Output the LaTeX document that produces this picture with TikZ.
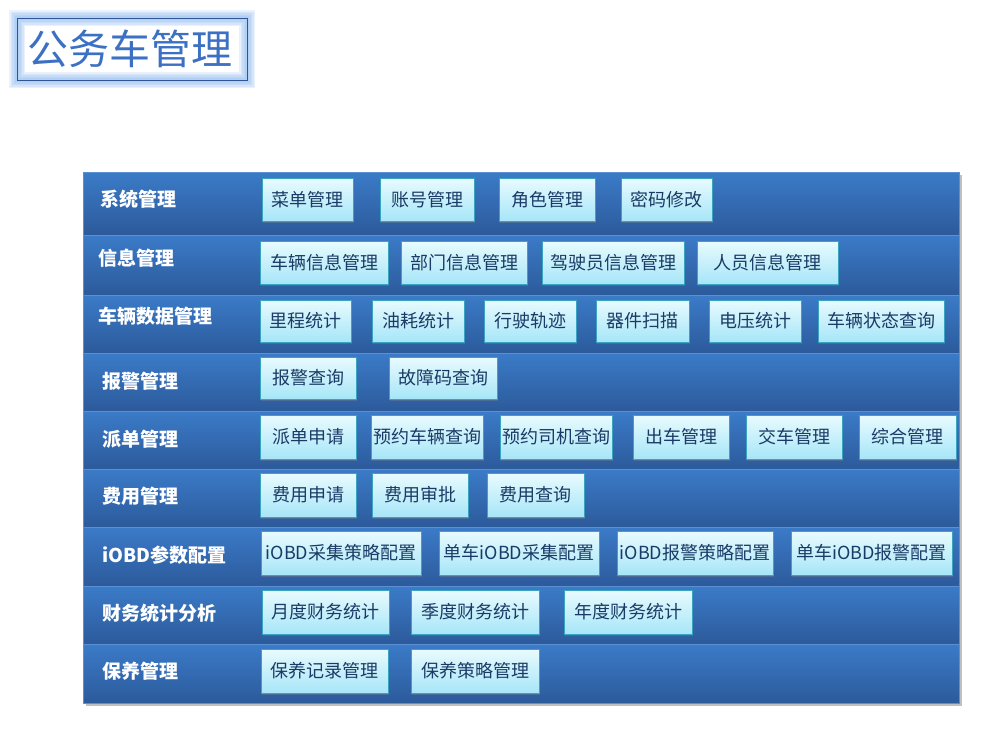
\documentclass[tikz,border=0pt]{standalone}
\usepackage{fontspec}
\setmainfont{Noto Sans CJK SC}
\newfontfamily\cjk{Noto Sans CJK SC}
\usetikzlibrary{shadows}
\definecolor{bandtop}{HTML}{3B7BC8}
\definecolor{bandbot}{HTML}{2C5A9B}
\definecolor{bandline}{HTML}{5B91D2}
\definecolor{boxtop}{HTML}{E8FBFE}
\definecolor{boxbot}{HTML}{A6E6F8}
\definecolor{boxline}{HTML}{3AA3BF}
\definecolor{boxtext}{HTML}{1B3A66}
\definecolor{titleblue}{HTML}{3C70C2}
\definecolor{titleline}{HTML}{2F5597}
\definecolor{glow}{HTML}{8DB8EE}
\tikzstyle{band}=[top color=bandtop,bottom color=bandbot,draw=bandline,line width=0.8pt]
\tikzstyle{rowlabel}=[anchor=west,text=white,font=\cjk\bfseries\fontsize{19}{19}\selectfont,inner sep=0pt]
\tikzstyle{item}=[rectangle,top color=boxtop,bottom color=boxbot,draw=boxline,line width=0.8pt,
  text=boxtext,font=\cjk\fontsize{18}{18}\selectfont,inner sep=0pt,
  drop shadow={shadow xshift=1pt,shadow yshift=-1.5pt,opacity=0.35}]

\begin{document}
\begin{tikzpicture}[x=1pt,y=-1pt]
\path[use as bounding box] (0,0) rectangle (1006,744);
% title (soft glow round the frame)
\foreach \w in {16,13,10,7,4}
  \draw[glow,line width=\w pt,opacity=0.2] (17,18) rectangle (247,80);
\draw[titleline,line width=0.8pt] (17,18) rectangle (247,80);
\node[text=titleblue,font=\cjk\fontsize{41}{41}\selectfont,inner sep=0pt] (title) at (130,49) {公务车管理};
% panel
\fill[black,opacity=0.25] (86,175) rectangle (962,706);
\foreach \t/\b in {172/235,235/295,295/353,353/411,411/469,469/527,527/586,586/644,644/703}
  \draw[band] (83,\t) rectangle (959,\b);
% row labels
\node[rowlabel] (r_sys)  at (100,199) {系统管理};
\node[rowlabel] (r_info) at (98,258) {信息管理};
\node[rowlabel] (r_data) at (98,316) {车辆数据管理};
\node[rowlabel] (r_warn) at (102,381) {报警管理};
\node[rowlabel] (r_disp) at (102,439) {派单管理};
\node[rowlabel] (r_cost) at (102,496) {费用管理};
\node[rowlabel] (r_obd)  at (102,555) {iOBD参数配置};
\node[rowlabel] (r_fin)  at (102,613) {财务统计分析};
\node[rowlabel] (r_care) at (102,671) {保养管理};
% row 1
\node[item,minimum width=91pt,minimum height=43pt] (b_menu)    at (307.5,199.5) {菜单管理};
\node[item,minimum width=94pt,minimum height=43pt] (b_account) at (427,199.5)   {账号管理};
\node[item,minimum width=96pt,minimum height=43pt] (b_role)    at (547,199.5)   {角色管理};
\node[item,minimum width=91pt,minimum height=43pt] (b_pwd)     at (666.5,199.5) {密码修改};
% row 2
\node[item,minimum width=128pt,minimum height=43pt] (b_car)    at (324,262.5)   {车辆信息管理};
\node[item,minimum width=126pt,minimum height=43pt] (b_dept)   at (464,262.5)   {部门信息管理};
\node[item,minimum width=142pt,minimum height=43pt] (b_driver) at (613,262.5)   {驾驶员信息管理};
\node[item,minimum width=141pt,minimum height=43pt] (b_staff)  at (767.5,262.5) {人员信息管理};
% row 3
\node[item,minimum width=91pt,minimum height=42pt]  (b_mile)   at (305.5,321) {里程统计};
\node[item,minimum width=92pt,minimum height=42pt]  (b_fuel)   at (418,321)   {油耗统计};
\node[item,minimum width=92pt,minimum height=42pt]  (b_track)  at (530,321)   {行驶轨迹};
\node[item,minimum width=93pt,minimum height=42pt]  (b_scan)   at (642.5,321) {器件扫描};
\node[item,minimum width=92pt,minimum height=42pt]  (b_volt)   at (755,321)   {电压统计};
\node[item,minimum width=126pt,minimum height=42pt] (b_state)  at (881,321)   {车辆状态查询};
% row 4
\node[item,minimum width=96pt,minimum height=42pt]  (b_alarm)  at (308,378) {报警查询};
\node[item,minimum width=108pt,minimum height=42pt] (b_fault)  at (443,378) {故障码查询};
% row 5
\node[item,minimum width=96pt,minimum height=44pt]  (b_apply)  at (308,437)   {派单申请};
\node[item,minimum width=112pt,minimum height=44pt] (b_bookcar) at (427,437)  {预约车辆查询};
\node[item,minimum width=112pt,minimum height=44pt] (b_bookdrv) at (556,437)  {预约司机查询};
\node[item,minimum width=96pt,minimum height=44pt]  (b_out)    at (681,437)   {出车管理};
\node[item,minimum width=96pt,minimum height=44pt]  (b_return) at (794,437)   {交车管理};
\node[item,minimum width=97pt,minimum height=44pt]  (b_all)    at (907.5,437) {综合管理};
% row 6
\node[item,minimum width=96pt,minimum height=44pt] (b_feeapp)  at (308,495)   {费用申请};
\node[item,minimum width=96pt,minimum height=44pt] (b_feechk)  at (420,495)   {费用审批};
\node[item,minimum width=97pt,minimum height=44pt] (b_feeqry)  at (535.5,495) {费用查询};
% row 7
\node[item,minimum width=160pt,minimum height=44pt] (b_collect)  at (341,553)   {iOBD采集策略配置};
\node[item,minimum width=160pt,minimum height=44pt] (b_onecoll)  at (519,553)   {单车iOBD采集配置};
\node[item,minimum width=156pt,minimum height=44pt] (b_alarmcfg) at (695,553)   {iOBD报警策略配置};
\node[item,minimum width=161pt,minimum height=44pt] (b_onealarm) at (871.5,553) {单车iOBD报警配置};
% row 8
\node[item,minimum width=127pt,minimum height=44pt] (b_month)   at (325.5,612) {月度财务统计};
\node[item,minimum width=128pt,minimum height=44pt] (b_quarter) at (475,612)   {季度财务统计};
\node[item,minimum width=128pt,minimum height=44pt] (b_year)    at (628,612)   {年度财务统计};
% row 9
\node[item,minimum width=127pt,minimum height=44pt] (b_record)  at (324.5,671) {保养记录管理};
\node[item,minimum width=128pt,minimum height=44pt] (b_policy)  at (475,671)   {保养策略管理};
\end{tikzpicture}
\end{document}
